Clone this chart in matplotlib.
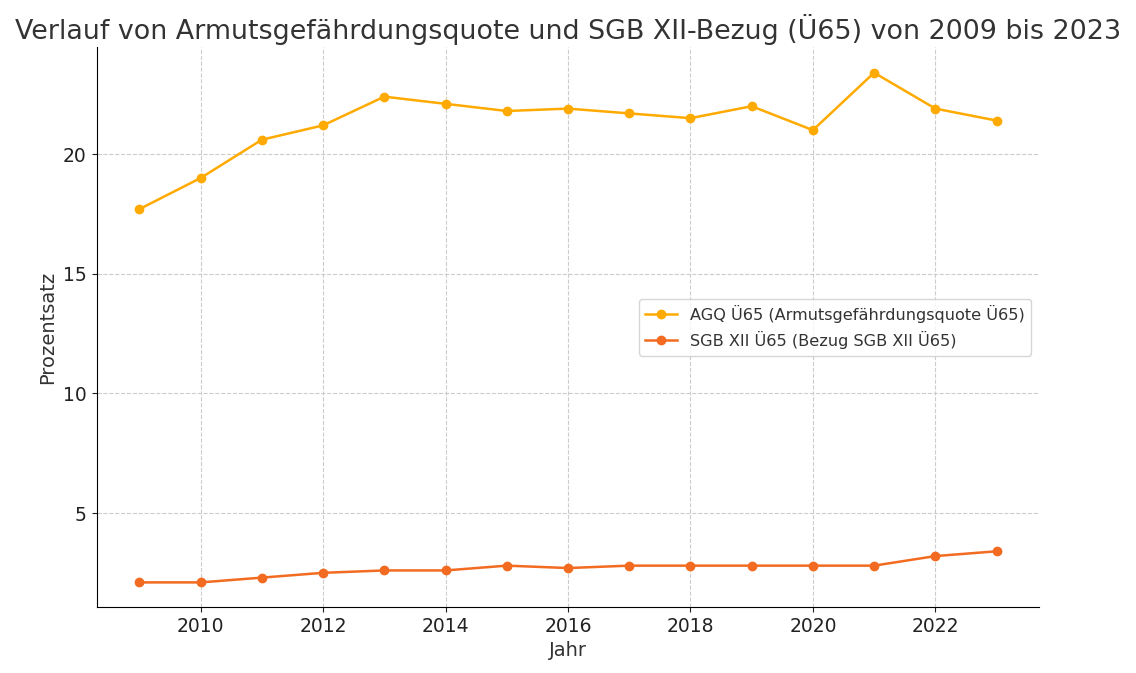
import matplotlib
matplotlib.use("Agg")
import matplotlib.pyplot as plt

years = list(range(2009, 2024))
agq = [17.7, 19.0, 20.6, 21.2, 22.4, 22.1, 21.8, 21.9, 21.7, 21.5, 22.0, 21.0, 23.4, 21.9, 21.4]
sgb = [2.1, 2.1, 2.3, 2.5, 2.6, 2.6, 2.8, 2.7, 2.8, 2.8, 2.8, 2.8, 2.8, 3.2, 3.4]

fig = plt.figure(figsize=(11.36, 6.73), dpi=100)
ax = fig.add_axes([0.085, 0.098, 0.83, 0.832])
ax.plot(years, agq, 'o-', color='#FFAA00', lw=1.8, ms=6, label='AGQ Ü65 (Armutsgefährdungsquote Ü65)')
ax.plot(years, sgb, 'o-', color='#F26B21', lw=1.8, ms=6, label='SGB XII Ü65 (Bezug SGB XII Ü65)')
ax.set_ylim(1.07, 24.47)
ax.set_xticks([2010, 2012, 2014, 2016, 2018, 2020, 2022])
ax.set_yticks([5, 10, 15, 20])
ax.tick_params(labelsize=13.5, colors='#222222')
ax.grid(True, linestyle='--', color='#cccccc', lw=0.8)
for s in ['top', 'right']:
    ax.spines[s].set_visible(False)
ax.set_xlabel('Jahr', fontsize=14, color='#333333')
ax.set_ylabel('Prozentsatz', fontsize=14, color='#333333')
ax.set_title('Verlauf von Armutsgefährdungsquote und SGB XII-Bezug (Ü65) von 2009 bis 2023',
             fontsize=19.4, color='#333333', pad=6)
ax.legend(loc='center right', fontsize=11.6, bbox_to_anchor=(1.0, 0.5), labelcolor='#333333')
fig.savefig('out.png')
